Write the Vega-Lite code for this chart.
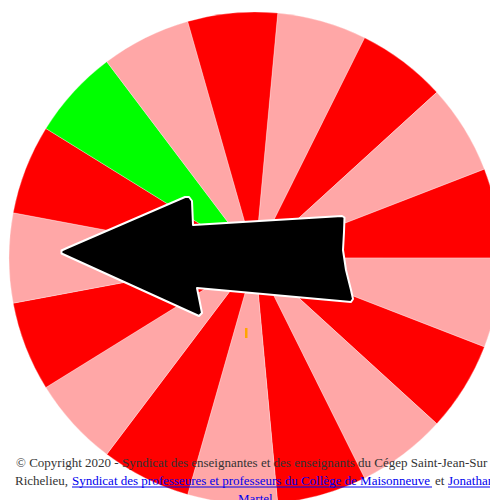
{
  "$schema": "https://vega.github.io/schema/vega-lite/v6.json",
  "width": 490,
  "height": 500,
  "padding": 0,
  "autosize": {"type": "none"},
  "background": "white",
  "config": {"view": {"stroke": null}},
  "datasets": {
    "wedges": [
      {"i": 0, "part": 1, "kind": "rose"},
      {"i": 1, "part": 1, "kind": "rouge"},
      {"i": 2, "part": 1, "kind": "rose"},
      {"i": 3, "part": 1, "kind": "rouge"},
      {"i": 4, "part": 1, "kind": "rose"},
      {"i": 5, "part": 1, "kind": "rouge"},
      {"i": 6, "part": 1, "kind": "rose"},
      {"i": 7, "part": 1, "kind": "rouge"},
      {"i": 8, "part": 1, "kind": "rose"},
      {"i": 9, "part": 1, "kind": "rouge"},
      {"i": 10, "part": 1, "kind": "rose"},
      {"i": 11, "part": 1, "kind": "rouge"},
      {"i": 12, "part": 1, "kind": "rose"},
      {"i": 13, "part": 1, "kind": "rouge"},
      {"i": 14, "part": 1, "kind": "vert"},
      {"i": 15, "part": 1, "kind": "rose"},
      {"i": 16, "part": 1, "kind": "rouge"}
    ],
    "arrow": [
      {"o": 1, "x": -193.5, "y": 7.5},
      {"o": 2, "x": -188, "y": 10},
      {"o": 3, "x": -70, "y": 61},
      {"o": 4, "x": -66, "y": 61},
      {"o": 5, "x": -63, "y": 57},
      {"o": 6, "x": -62, "y": 33},
      {"o": 7, "x": 87, "y": 42},
      {"o": 8, "x": 89.5, "y": 40.5},
      {"o": 9, "x": 89, "y": 26},
      {"o": 10, "x": 88, "y": 8},
      {"o": 11, "x": 91, "y": -12},
      {"o": 12, "x": 96, "y": -32},
      {"o": 13, "x": 98, "y": -41},
      {"o": 14, "x": 96, "y": -44},
      {"o": 15, "x": -58, "y": -30},
      {"o": 16, "x": -53, "y": -55},
      {"o": 17, "x": -56, "y": -58},
      {"o": 18, "x": -188, "y": 2},
      {"o": 19, "x": -193.5, "y": 4.5}
    ],
    "marker": [
      {"x": -10, "x2": -7.5, "y": -70, "y2": -80}
    ],
    "texts": [
      {"x": -239, "y": -209, "t": "© Copyright 2020 - Syndicat des enseignantes et des enseignants du Cégep Saint-Jean-Sur", "role": "texte"},
      {"x": -240, "y": -227, "t": "Richelieu,", "role": "texte"},
      {"x": -183, "y": -227, "t": "Syndicat des professeures et professeurs du Collège de Maisonneuve", "role": "lien"},
      {"x": 180, "y": -227, "t": "et", "role": "texte"},
      {"x": 193, "y": -227, "t": "Jonathan", "role": "lien"},
      {"x": -17, "y": -245, "t": "Martel", "role": "lien"}
    ],
    "underlines": [
      {"x": -183, "x2": 177, "y": -229},
      {"x": 193, "x2": 260, "y": -229}
    ]
  },
  "resolve": {"scale": {"color": "independent"}},
  "layer": [
    {
      "data": {"name": "wedges"},
      "mark": {"type": "arc", "outerRadius": 246, "stroke": "white", "strokeWidth": 0.3},
      "encoding": {
        "x": {"datum": 0, "type": "quantitative", "scale": {"domain": [-255, 235], "nice": false}, "axis": null},
        "y": {"datum": 0, "type": "quantitative", "scale": {"domain": [-242, 258], "nice": false}, "axis": null},
        "theta": {"field": "part", "type": "quantitative", "stack": true, "scale": {"range": [0.0925, 6.3757]}},
        "order": {"field": "i", "type": "quantitative"},
        "color": {"field": "kind", "type": "nominal", "scale": {"domain": ["rouge", "rose", "vert"], "range": ["#ff0000", "#ffa7a7", "#00ff00"]}, "legend": null}
      }
    },
    {
      "data": {"name": "marker"},
      "mark": {"type": "rect", "color": "#ffa500"},
      "encoding": {
        "x": {"field": "x", "type": "quantitative", "scale": {"domain": [-255, 235], "nice": false}, "axis": null},
        "x2": {"field": "x2"},
        "y": {"field": "y", "type": "quantitative", "scale": {"domain": [-242, 258], "nice": false}, "axis": null},
        "y2": {"field": "y2"}
      }
    },
    {
      "data": {"name": "arrow"},
      "mark": {"type": "line", "interpolate": "linear-closed", "fill": "black", "stroke": "white", "strokeWidth": 2, "strokeJoin": "round"},
      "encoding": {
        "x": {"field": "x", "type": "quantitative", "scale": {"domain": [-255, 235], "nice": false}, "axis": null},
        "y": {"field": "y", "type": "quantitative", "scale": {"domain": [-242, 258], "nice": false}, "axis": null},
        "order": {"field": "o", "type": "quantitative"}
      }
    },
    {
      "data": {"name": "underlines"},
      "mark": {"type": "rule", "color": "#0000ee", "strokeWidth": 1},
      "encoding": {
        "x": {"field": "x", "type": "quantitative", "scale": {"domain": [-255, 235], "nice": false}, "axis": null},
        "x2": {"field": "x2"},
        "y": {"field": "y", "type": "quantitative", "scale": {"domain": [-242, 258], "nice": false}, "axis": null}
      }
    },
    {
      "data": {"name": "texts"},
      "mark": {"type": "text", "align": "left", "baseline": "alphabetic", "font": "Liberation Serif", "fontSize": 13},
      "encoding": {
        "x": {"field": "x", "type": "quantitative", "scale": {"domain": [-255, 235], "nice": false}, "axis": null},
        "y": {"field": "y", "type": "quantitative", "scale": {"domain": [-242, 258], "nice": false}, "axis": null},
        "text": {"field": "t"},
        "color": {"field": "role", "type": "nominal", "scale": {"domain": ["texte", "lien"], "range": ["#333333", "#0000ee"]}, "legend": null}
      }
    }
  ]
}
